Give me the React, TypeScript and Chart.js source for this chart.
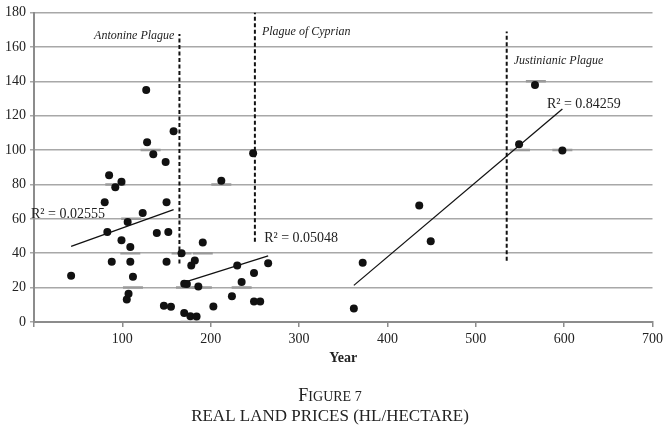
import React, { useEffect, useRef } from "react";
import { Chart, registerables } from "chart.js";

Chart.register(...registerables);

// ---- data ----
const years = [
  42, 80, 83, 85, 88, 92, 99, 99, 105, 107, 106, 109, 109, 112, 123, 127, 128, 135, 139,
  147, 149, 150, 150, 152, 155, 158, 167, 170, 173, 170, 177, 178, 182, 184, 186, 191,
  203, 212, 224, 230, 235, 248, 249, 249, 256, 265, 362, 372, 436, 449, 549, 567, 598,
];
const prices = [
  26.9, 69.7, 52.3, 85.4, 35, 78.4, 81.5, 47.5, 13.1, 16.4, 58.2, 43.6, 35, 26.3, 63.4,
  134.9, 104.5, 97.6, 51.7, 9.4, 93, 69.7, 35, 52.3, 8.8, 111, 40, 22.3, 22.1, 5.2, 3.3,
  32.8, 35.8, 3.2, 20.6, 46.2, 9, 82.1, 15, 32.9, 23.3, 98.2, 28.5, 11.9, 11.9, 34.2,
  7.9, 34.4, 67.7, 46.9, 103.4, 137.8, 99.7,
];

// grey dash markers (second Excel series)
const dashYears = [132, 92, 212, 110, 109, 167, 191, 112, 172, 190, 235, 177, 568, 598, 550];
const dashValues = [100, 80, 80, 60, 40, 40, 40, 20, 20, 20, 20, 0, 140, 100, 100];

// trend lines (start/end)
const trendYears = [
  [42, 158],
  [168, 265],
  [362, 598],
];
const trendValues = [
  [44, 65.4],
  [22.7, 38.4],
  [21.3, 123.9],
];
const trendLabels = ["R\u00B2 = 0.02555", "R\u00B2 = 0.05048", "R\u00B2 = 0.84259"];

// plague markers
const plagueNames = ["Antonine Plague", "Plague of Cyprian", "Justinianic Plague"];
const plagueYears = [164.6, 250, 535];
const plagueFrom = [34, 46.7, 35.6];
const plagueTo = [167.5, 180, 169];

const xTicks = [0, 100, 200, 300, 400, 500, 600, 700];
const yTicks = [0, 20, 40, 60, 80, 100, 120, 140, 160, 180];
const xTitle = "Year";
const figureNumber = "FIGURE 7";
const figureTitle = "REAL LAND PRICES (HL/HECTARE)";

const SERIF = '"Liberation Serif", "Times New Roman", serif';

const textPlugin = {
  id: "figureTexts",
  afterDatasetsDraw(chart: any) {
    const { ctx, scales } = chart;
    const x = scales.x;
    const y = scales.y;
    ctx.save();
    ctx.fillStyle = "#222";
    ctx.textBaseline = "middle";

    // plague names
    ctx.font = `italic 12px ${SERIF}`;
    ctx.textAlign = "right";
    ctx.fillText(plagueNames[0], x.getPixelForValue(plagueYears[0]) - 5, y.getPixelForValue(166.3));
    ctx.textAlign = "left";
    ctx.fillText(plagueNames[1], x.getPixelForValue(plagueYears[1]) + 7, y.getPixelForValue(168.7));
    ctx.fillText(plagueNames[2], x.getPixelForValue(plagueYears[2]) + 7, y.getPixelForValue(151.8));

    // R² labels
    ctx.font = `14px ${SERIF}`;
    ctx.textAlign = "left";
    ctx.fillText(trendLabels[0], 31, y.getPixelForValue(62.8));
    ctx.fillText(trendLabels[1], x.getPixelForValue(260.5), y.getPixelForValue(48.6));
    ctx.fillText(trendLabels[2], x.getPixelForValue(580.5), y.getPixelForValue(126.8));

    // figure caption
    const cx = 330;
    ctx.textAlign = "left";
    ctx.font = `18px ${SERIF}`;
    const fW = ctx.measureText(figureNumber[0]).width;
    ctx.font = `14px ${SERIF}`;
    const restW = ctx.measureText(figureNumber.slice(1)).width;
    const startX = cx - (fW + restW) / 2;
    ctx.textBaseline = "alphabetic";
    ctx.font = `18px ${SERIF}`;
    ctx.fillText(figureNumber[0], startX, 401);
    ctx.font = `14px ${SERIF}`;
    ctx.fillText(figureNumber.slice(1), startX + fW, 401);

    ctx.textAlign = "center";
    ctx.font = `17px ${SERIF}`;
    ctx.fillText(figureTitle, cx, 421);
    ctx.restore();
  },
};

export default function App() {
  const canvasRef = useRef<HTMLCanvasElement | null>(null);

  useEffect(() => {
    const canvas = canvasRef.current;
    if (!canvas) return;
    Chart.defaults.font.family = SERIF;
    Chart.defaults.color = "#222";

    const datasets: any[] = [];
    datasets.push({
      label: "Land price",
      data: years.map((yr, i) => ({ x: yr, y: prices[i] })),
      pointRadius: 4,
      pointBackgroundColor: "#111",
      pointBorderColor: "#111",
      pointBorderWidth: 0,
      showLine: false,
      order: 0,
    });
    trendYears.forEach((ty, k) => {
      datasets.push({
        label: trendLabels[k],
        data: ty.map((yr, i) => ({ x: yr, y: trendValues[k][i] })),
        showLine: true,
        borderColor: "#111",
        borderWidth: 1.3,
        pointRadius: 0,
        order: 1,
      });
    });
    plagueYears.forEach((py, k) => {
      datasets.push({
        label: plagueNames[k],
        data: [
          { x: py, y: plagueFrom[k] },
          { x: py, y: plagueTo[k] },
        ],
        showLine: true,
        borderColor: "#111",
        borderWidth: 2,
        borderDash: [4, 2.5],
        pointRadius: 0,
        order: 2,
      });
    });
    datasets.push({
      label: "Dash",
      data: dashYears.map((yr, i) => ({ x: yr, y: dashValues[i] })),
      pointStyle: "line",
      pointRadius: 10,
      pointBorderColor: "#9a9a9a",
      pointBorderWidth: 2.5,
      showLine: false,
      order: 3,
    });

    const chart = new Chart(canvas, {
      type: "scatter",
      data: { datasets },
      plugins: [textPlugin],
      options: {
        animation: false,
        responsive: false,
        maintainAspectRatio: false,
        devicePixelRatio: 1,
        layout: { padding: { top: 9, right: 12, bottom: 58, left: 0 } },
        plugins: {
          legend: { display: false },
          tooltip: { enabled: false },
        },
        scales: {
          x: {
            type: "linear",
            min: xTicks[0],
            max: xTicks[xTicks.length - 1],
            afterBuildTicks: (axis: any) => {
              axis.ticks = xTicks.map((v) => ({ value: v }));
            },
            afterFit: (axis: any) => {
              axis.height = 46;
            },
            ticks: {
              font: { size: 14, family: SERIF },
              color: "#222",
              padding: 4,
              callback: (v: any) => (v === 0 ? "" : String(v)),
            },
            grid: {
              display: true,
              drawOnChartArea: false,
              drawTicks: true,
              tickLength: 5,
              color: "#8c8c8c",
              lineWidth: 1.5,
            },
            border: { display: true, color: "#8c8c8c", width: 2 },
            title: {
              display: true,
              text: xTitle,
              font: { size: 14, weight: "bold", family: SERIF },
              color: "#222",
              padding: { top: 0, bottom: 1 },
            },
          },
          y: {
            type: "linear",
            min: yTicks[0],
            max: yTicks[yTicks.length - 1],
            afterBuildTicks: (axis: any) => {
              axis.ticks = yTicks.map((v) => ({ value: v }));
            },
            afterFit: (axis: any) => {
              axis.width = 34;
            },
            ticks: {
              font: { size: 14, family: SERIF },
              color: "#222",
              padding: 4,
            },
            grid: {
              display: true,
              drawOnChartArea: true,
              drawTicks: true,
              tickLength: 4,
              color: "#a8a8a8",
              lineWidth: 1.5,
            },
            border: { display: true, color: "#8c8c8c", width: 2 },
          },
        },
      },
    } as any);

    return () => {
      chart.destroy();
    };
  }, []);

  return (
    <div
      style={{
        position: "fixed",
        left: 0,
        top: 0,
        width: 667,
        height: 426,
        background: "#fff",
      }}
    >
      <canvas ref={canvasRef} width={667} height={426} style={{ width: 667, height: 426, display: "block" }} />
    </div>
  );
}
